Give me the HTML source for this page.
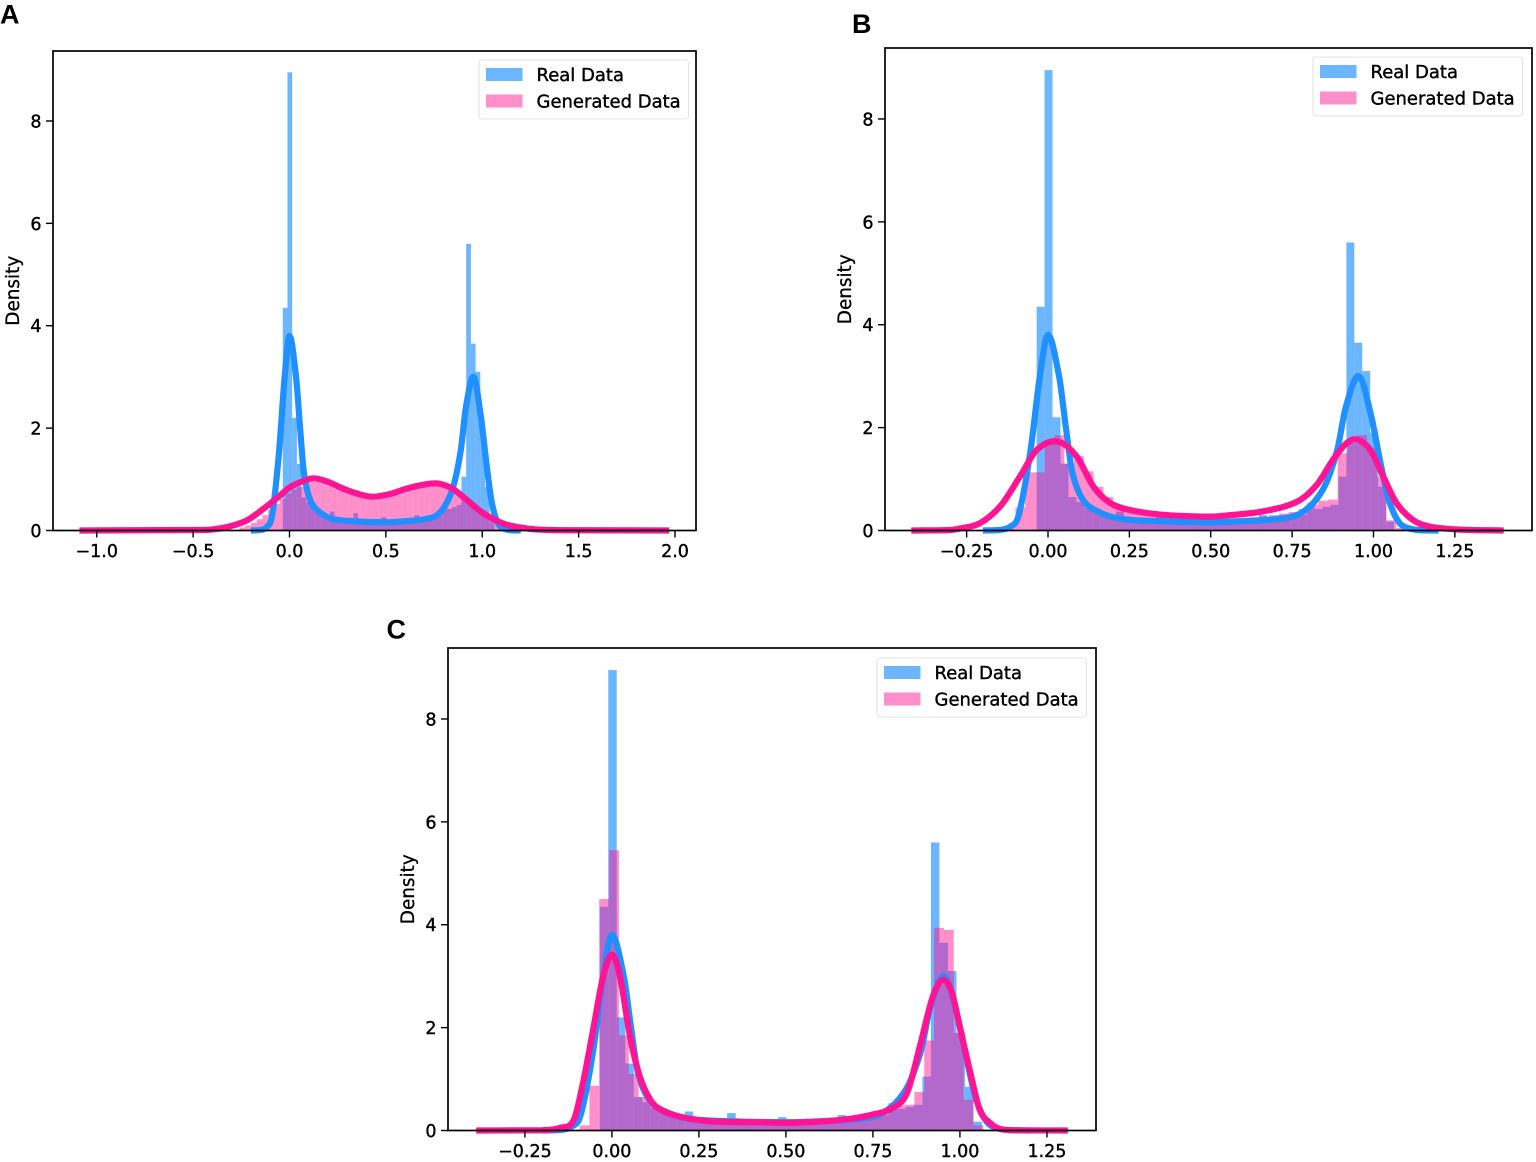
<!DOCTYPE html>
<html lang="en">
<head>
<meta charset="utf-8">
<title>Real vs Generated Data Density</title>
<style>
  html, body { margin: 0; padding: 0; background: #fff; }
  body { width: 1536px; height: 1162px; overflow: hidden; }
  #figure { display: block; }
  .tick-text { font-family: "DejaVu Sans", "Liberation Sans", sans-serif; font-size: 17.5px; fill: #000; stroke: #000; stroke-width: 0.4px; }
  .title-text { font-family: "DejaVu Sans", "Liberation Sans", sans-serif; font-size: 18.4px; fill: #000; stroke: #000; stroke-width: 0.3px; }
  .legend-text { font-family: "DejaVu Sans", "Liberation Sans", sans-serif; font-size: 18px; fill: #000; stroke: #000; stroke-width: 0.4px; }
  .letter { font-family: "Liberation Sans", sans-serif; font-size: 27px; font-weight: bold; fill: #000; }
</style>
</head>
<body>
<svg id="figure" xmlns="http://www.w3.org/2000/svg" width="1536" height="1162" viewBox="0 0 1536 1162">
  <rect width="1536" height="1162" fill="#fff"/>
  <text class="letter" x="0" y="23.5">A</text>
  <text class="letter" x="852" y="33">B</text>
  <text class="letter" x="386.5" y="638.5">C</text>
</svg>
<script>
// ---------- shared data: real histogram ----------
const realBinStart = -0.0349;
const realBinWidth = 0.0244;
const realDensity = [4.35, 8.95, 2.2, 1.3, 0.65, 0.55, 0.44, 0.37, 0.3, 0.28, 0.37, 0.22, 0.2, 0.19, 0.18, 0.34, 0.17, 0.16, 0.15, 0.16, 0.17, 0.26, 0.15, 0.16, 0.16, 0.17, 0.18, 0.2, 0.3, 0.2, 0.22, 0.25, 0.28, 0.3, 0.53, 0.42, 0.46, 0.5, 1.05, 5.6, 3.65, 3.1, 1.9, 0.85, 0.17, 0.02];

// ---------- shared data: real KDE ----------
const realKdeX = [-0.2, -0.15, -0.117, -0.09, -0.055, -0.025, 0.0, 0.034, 0.055, 0.074, 0.105, 0.15, 0.22, 0.344, 0.5, 0.56, 0.713, 0.783, 0.845, 0.888, 0.915, 0.955, 0.992, 1.022, 1.047, 1.077, 1.11, 1.15, 1.2];
const realKdeY = [0, 0.01, 0.07, 0.3, 1.5, 3.0, 3.8, 3.0, 2.0, 1.15, 0.62, 0.38, 0.23, 0.18, 0.16, 0.17, 0.23, 0.36, 0.8, 1.55, 2.4, 3.0, 2.25, 1.3, 0.6, 0.17, 0.04, 0.005, 0];

// ---------- panel A: generated ----------
const genABinStart = -0.26;
const genABinWidth = 0.03;
const genADensity = [0.06, 0.1, 0.15, 0.22, 0.3, 0.4, 0.52, 0.62, 0.72, 0.8, 0.85, 0.9, 0.95, 0.95, 0.92, 0.9, 0.85, 0.8, 0.75, 0.72, 0.68, 0.64, 0.62, 0.6, 0.62, 0.64, 0.68, 0.7, 0.74, 0.78, 0.8, 0.84, 0.85, 0.88, 0.88, 0.86, 0.8, 0.72, 0.64, 0.55, 0.48, 0.4, 0.32, 0.22, 0.12, 0.03];
const genAKdeX = [-1.09, -0.8, -0.5, -0.4, -0.31, -0.22, -0.137, -0.05, 0.0, 0.06, 0.125, 0.2, 0.277, 0.36, 0.43, 0.52, 0.61, 0.69, 0.765, 0.84, 0.9, 1.0, 1.07, 1.13, 1.25, 1.35, 1.5, 1.97];
const genAKdeY = [0, 0.005, 0.01, 0.02, 0.08, 0.2, 0.42, 0.68, 0.84, 0.95, 1.02, 0.95, 0.82, 0.71, 0.66, 0.71, 0.82, 0.89, 0.92, 0.83, 0.66, 0.35, 0.2, 0.11, 0.03, 0.01, 0.005, 0];

// ---------- panel B: generated ----------
const genBBinStart = -0.13;
const genBBinWidth = 0.03;
const genBDensity = [0.1, 0.45, 1.13, 1.13, 1.75, 1.85, 1.3, 1.45, 1.15, 0.85, 0.65, 0.5, 0.4, 0.36, 0.3, 0.28, 0.27, 0.26, 0.25, 0.25, 0.25, 0.25, 0.25, 0.25, 0.25, 0.26, 0.27, 0.3, 0.33, 0.36, 0.42, 0.5, 0.58, 0.6, 1.5, 1.7, 1.85, 1.6, 1.05, 0.2, 0.05];
const genBKdeX = [-0.42, -0.3, -0.27, -0.21, -0.147, -0.086, -0.034, 0.03, 0.088, 0.14, 0.19, 0.243, 0.344, 0.5, 0.56, 0.66, 0.765, 0.826, 0.876, 0.918, 0.949, 0.99, 1.03, 1.07, 1.12, 1.17, 1.257, 1.4];
const genBKdeY = [0, 0.01, 0.04, 0.14, 0.47, 1.05, 1.57, 1.73, 1.44, 0.85, 0.54, 0.41, 0.31, 0.27, 0.3, 0.37, 0.56, 0.89, 1.38, 1.7, 1.77, 1.57, 1.05, 0.54, 0.21, 0.08, 0.02, 0];

// ---------- panel C: generated ----------
const genCBinStart = -0.093;
const genCBinWidth = 0.0283;
const genCDensity = [0.1, 0.87, 4.5, 5.45, 1.85, 1.1, 0.65, 0.5, 0.42, 0.33, 0.28, 0.24, 0.2, 0.18, 0.17, 0.16, 0.15, 0.15, 0.15, 0.14, 0.15, 0.15, 0.16, 0.17, 0.19, 0.2, 0.22, 0.25, 0.28, 0.32, 0.36, 0.42, 0.48, 0.5, 0.75, 1.75, 3.94, 3.9, 1.9, 0.6, 0.1];
const genCKdeX = [-0.39, -0.2, -0.15, -0.11, -0.083, -0.054, -0.025, 0, 0.023, 0.052, 0.08, 0.11, 0.138, 0.195, 0.28, 0.425, 0.52, 0.664, 0.75, 0.807, 0.848, 0.885, 0.922, 0.951, 0.977, 1.0, 1.03, 1.057, 1.086, 1.115, 1.16, 1.31];
const genCKdeY = [0, 0.005, 0.05, 0.2, 0.93, 1.96, 3.0, 3.42, 3.0, 1.83, 1.05, 0.6, 0.41, 0.27, 0.18, 0.16, 0.15, 0.21, 0.31, 0.44, 0.73, 1.64, 2.6, 2.93, 2.68, 2.0, 1.12, 0.4, 0.15, 0.03, 0.005, 0];

// ---------- tick labels ----------
const yTicks = [0, 2, 4, 6, 8];
const xTicksA = [-1.0, -0.5, 0.0, 0.5, 1.0, 1.5, 2.0];
const xTicksBC = [-0.25, 0.0, 0.25, 0.5, 0.75, 1.0, 1.25];

const SVG_NS = 'http://www.w3.org/2000/svg';
const figure = document.getElementById('figure');

function shape(parent, tag, attrs) {
  const el = document.createElementNS(SVG_NS, tag);
  for (const k in attrs) el.setAttribute(k, attrs[k]);
  parent.appendChild(el);
  return el;
}

function linePath(xs, ys, sx, sy) {
  const p = xs.map((x, i) => [sx(x), sy(ys[i])]);
  const base = sy(0);
  let d = 'M' + p[0][0].toFixed(2) + ' ' + p[0][1].toFixed(2);
  for (let i = 0; i < p.length - 1; i++) {
    const p0 = p[Math.max(0, i - 1)], p1 = p[i], p2 = p[i + 1], p3 = p[Math.min(p.length - 1, i + 2)];
    const t = (p2[0] - p1[0]) / 3;
    const m1 = (p2[1] - p0[1]) / Math.max(p2[0] - p0[0], 0.001);
    const m2 = (p3[1] - p1[1]) / Math.max(p3[0] - p1[0], 0.001);
    const c1y = Math.min(base, p1[1] + m1 * t);
    const c2y = Math.min(base, p2[1] - m2 * t);
    d += ' C' + (p1[0] + t).toFixed(2) + ' ' + c1y.toFixed(2) + ' ' + (p2[0] - t).toFixed(2) + ' ' + c2y.toFixed(2) + ' ' + p2[0].toFixed(2) + ' ' + p2[1].toFixed(2);
  }
  return d;
}

function formatTick(v, digits) {
  return (v < 0 ? '\u2212' : '') + Math.abs(v).toFixed(digits);
}

function drawPanel(cfg) {
  const g = shape(figure, 'g', {});
  
  

  const sx = v => cfg.left + (v - cfg.xMin) / (cfg.xMax - cfg.xMin) * (cfg.right - cfg.left);
  const sy = v => cfg.bottom - v / cfg.yMax * (cfg.bottom - cfg.top);

  realDensity.forEach((v, i) => {
    const x0 = sx(realBinStart + i * realBinWidth);
    const x1 = sx(realBinStart + (i + 1) * realBinWidth);
    const bar = shape(g, 'rect', { x: x0, y: sy(v), width: x1 - x0, height: sy(0) - sy(v), fill: '#1e90ff', 'fill-opacity': 0.66 });
    
    
  });

  cfg.genDensity.forEach((v, i) => {
    const x0 = sx(cfg.genStart + i * cfg.genWidth);
    const x1 = sx(cfg.genStart + (i + 1) * cfg.genWidth);
    const bar = shape(g, 'rect', { x: x0, y: sy(v), width: x1 - x0, height: sy(0) - sy(v), fill: '#ff1493', 'fill-opacity': 0.48 });
    
    
  });

  const realLine = shape(g, 'path', { d: linePath(realKdeX, realKdeY, sx, sy), fill: 'none', stroke: '#1e90ff', 'stroke-width': 6.2, 'stroke-linejoin': 'round' });
  
  

  const genLine = shape(g, 'path', { d: linePath(cfg.genKdeX, cfg.genKdeY, sx, sy), fill: 'none', stroke: '#ff1493', 'stroke-width': 6.2, 'stroke-linejoin': 'round' });
  
  

  const frame = shape(g, 'rect', { x: cfg.left, y: cfg.top, width: cfg.right - cfg.left, height: cfg.bottom - cfg.top, fill: 'none', stroke: '#000', 'stroke-width': 1.7 });
  
  

  cfg.xTicks.forEach(v => {
    const px = sx(v);
    const tick = shape(g, 'line', { x1: px, x2: px, y1: cfg.bottom, y2: cfg.bottom + 7, stroke: '#000', 'stroke-width': 1.4 });
    
    
    const label = shape(g, 'text', { x: px, y: cfg.bottom + 26.5, 'text-anchor': 'middle', class: 'tick-text' });
    
    
    label.textContent = formatTick(v, cfg.xDigits);
  });

  yTicks.forEach(v => {
    const py = sy(v);
    const tick = shape(g, 'line', { x1: cfg.left - 7, x2: cfg.left, y1: py, y2: py, stroke: '#000', 'stroke-width': 1.4 });
    
    
    const label = shape(g, 'text', { x: cfg.left - 11.5, y: py + 6.5, 'text-anchor': 'end', class: 'tick-text' });
    
    
    label.textContent = String(v);
  });

  const yTitleY = (cfg.top + cfg.bottom) / 2;
  const yTitle = shape(g, 'text', { x: cfg.left - 34, y: yTitleY, 'text-anchor': 'middle', class: 'title-text', transform: 'rotate(-90 ' + (cfg.left - 34) + ' ' + yTitleY + ')' });
  
  
  yTitle.textContent = 'Density';

  const lx = cfg.legendX, ly = cfg.legendY;
  const legend = shape(g, 'g', {});
  
  
  const box = shape(legend, 'rect', { x: lx, y: ly, width: 209.5, height: 59, rx: 3, fill: '#fff', 'fill-opacity': 0.85, stroke: '#e4e4e4', 'stroke-width': 1.1 });
  
  
  const swatchReal = shape(legend, 'rect', { x: lx + 7, y: ly + 8, width: 36.5, height: 13, fill: '#1e90ff', 'fill-opacity': 0.66 });
  
  
  const swatchGen = shape(legend, 'rect', { x: lx + 7, y: ly + 34.5, width: 36.5, height: 13, fill: '#ff1493', 'fill-opacity': 0.48 });
  
  
  const textReal = shape(legend, 'text', { x: lx + 57.5, y: ly + 21, class: 'legend-text' });
  
  
  textReal.textContent = 'Real Data';
  const textGen = shape(legend, 'text', { x: lx + 57.5, y: ly + 47.5, class: 'legend-text' });
  
  
  textGen.textContent = 'Generated Data';
}

drawPanel({ name: 'panel-a', left: 53, right: 696, top: 51, bottom: 530.5, xMin: -1.227, xMax: 2.109, yMax: 9.367, xTicks: xTicksA, xDigits: 1, legendX: 479, legendY: 60,
  genStart: genABinStart, genWidth: genABinWidth, genDensity: genADensity, genKdeX: genAKdeX, genKdeY: genAKdeY });
drawPanel({ name: 'panel-b', left: 885, right: 1532, top: 48, bottom: 530.5, xMin: -0.5008, xMax: 1.487, yMax: 9.38, xTicks: xTicksBC, xDigits: 2, legendX: 1313, legendY: 57,
  genStart: genBBinStart, genWidth: genBBinWidth, genDensity: genBDensity, genKdeX: genBKdeX, genKdeY: genBKdeY });
drawPanel({ name: 'panel-c', left: 448, right: 1096, top: 648, bottom: 1130.5, xMin: -0.471, xMax: 1.391, yMax: 9.38, xTicks: xTicksBC, xDigits: 2, legendX: 877, legendY: 658,
  genStart: genCBinStart, genWidth: genCBinWidth, genDensity: genCDensity, genKdeX: genCKdeX, genKdeY: genCKdeY });
</script>
</body>
</html>
